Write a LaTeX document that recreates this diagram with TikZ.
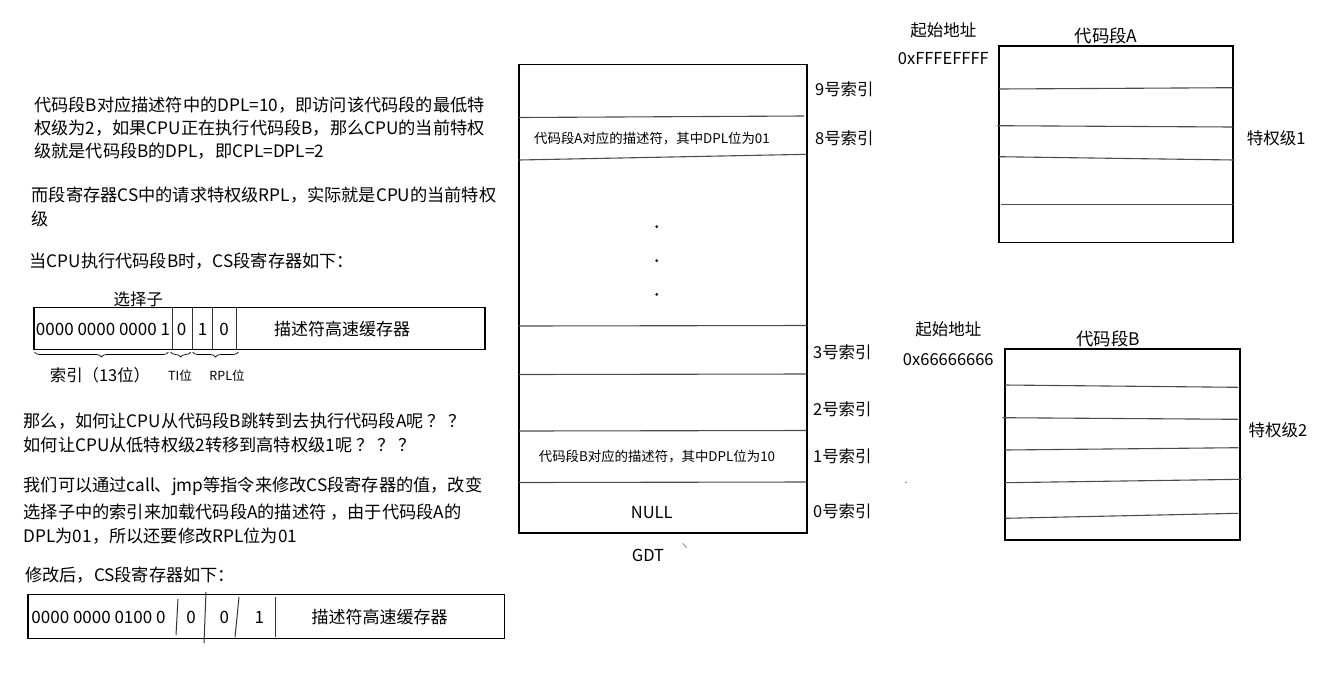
\documentclass[tikz,border=0pt]{standalone}
\usepackage{fontspec}
\setmainfont{Noto Sans CJK SC}
\usetikzlibrary{decorations.pathreplacing}
\begin{document}
\begin{tikzpicture}[x=1pt,y=-1pt,
  txt/.style={anchor=west, inner sep=0pt, font=\fontsize{17.2}{20}\selectfont},
  lbl/.style={inner sep=0pt, font=\fontsize{16.4}{19}\selectfont},
  reg/.style={inner sep=0pt, font=\fontsize{17}{19}\selectfont},
  small/.style={inner sep=0pt, font=\fontsize{13.4}{15}\selectfont},
  hd/.style={inner sep=0pt, font=\fontsize{16.5}{19}\selectfont},
  boxline/.style={line width=1.6pt},
  sepline/.style={line width=1pt, draw=black!80},
  rowline/.style={line width=1.1pt, draw=black!70},
  bracestyle/.style={decorate, decoration={brace, mirror, amplitude=5pt}, line width=0.7pt}]
\useasboundingbox (0,0) rectangle (1329,673);
\fill[white] (0,0) rectangle (1329,673);

% ---------- left text ----------
\node[txt] (p1a) at (34,105) {代码段B对应描述符中的DPL=10，即访问该代码段的最低特};
\node[txt] (p1b) at (34,128.5) {权级为2，如果CPU正在执行代码段B，那么CPU的当前特权};
\node[txt] (p1c) at (34,151) {级就是代码段B的DPL，即CPL=DPL=2};
\node[txt] (p2a) at (31.5,195) {而段寄存器CS中的请求特权级RPL，实际就是CPU的当前特权};
\node[txt] (p2b) at (31.5,218.5) {级};
\node[txt] (p3) at (29.5,261.5) {当CPU执行代码段B时，CS段寄存器如下：};

% ---------- register 1 ----------
\node[lbl] (sel) at (138.3,299.5) {选择子};
\draw[boxline] (34,307.3) rectangle (485,349.3);
\draw[sepline] (172.3,307.3) -- (172.3,349.3);
\draw[sepline] (192.3,307.3) -- (192.3,349.3);
\draw[sepline] (212.7,307.3) -- (212.7,349.3);
\draw[sepline] (236.7,307.3) -- (236.7,349.3);
\node[reg] (r1idx) at (103,329) {0000 0000 0000 1};
\node[reg] (r1ti) at (181.7,329) {0};
\node[reg] (r1b1) at (202.7,329) {1};
\node[reg] (r1b0) at (224,329) {0};
\node[reg] (r1cache) at (342,329) {描述符高速缓存器};
\draw[bracestyle] (34.5,352) -- (168.3,352);
\draw[bracestyle] (170.7,352) -- (190.7,352);
\draw[bracestyle] (192.7,352) -- (238.3,352);
\node[lbl] (lidx) at (100,375) {索引（13位）};
\node[inner sep=0pt, font=\fontsize{12.5}{14}\selectfont] (lti) at (180,376) {TI位};
\node[inner sep=0pt, font=\fontsize{12.5}{14}\selectfont] (lrpl) at (227,376) {RPL位};

% ---------- lower text ----------
\node[txt] (q1) at (23.5,421.5) {那么，如何让CPU从代码段B跳转到去执行代码段A呢 ？ ？};
\node[txt] (q2) at (23.5,445) {如何让CPU从低特权级2转移到高特权级1呢 ？ ？ ？};
\node[txt] (a1) at (23.5,486.5) {我们可以通过call、jmp等指令来修改CS段寄存器的值，改变};
\node[txt] (a2) at (23.5,512.5) {选择子中的索引来加载代码段A的描述符 ，由于代码段A的};
\node[txt] (a3) at (23.5,536.5) {DPL为01，所以还要修改RPL位为01};
\node[txt] (m1) at (25,575) {修改后，CS段寄存器如下：};

% ---------- register 2 ----------
\draw[boxline] (27.7,594.3) rectangle (504.3,638.3);
\draw[sepline] (178,599) -- (176,635);
\draw[sepline] (206,592) -- (204,643);
\draw[sepline] (239,597) -- (235,637);
\draw[sepline] (275,597) -- (275,637);
\node[reg] (r2idx) at (98.5,617.5) {0000 0000 0100 0};
\node[reg] (r2ti) at (191,617.5) {0};
\node[reg] (r2b1) at (224.3,617.5) {0};
\node[reg] (r2b0) at (259.3,617.5) {1};
\node[reg] (r2cache) at (379.7,617.5) {描述符高速缓存器};

% ---------- GDT ----------
\draw[boxline] (519,64.5) rectangle (806.7,532.7);
\draw[rowline] (519,117.5) -- (804,116);
\draw[rowline] (519,160) -- (806.7,154.3);
\draw[rowline] (519,326) -- (807,325.5);
\draw[rowline] (519,374.5) -- (806.7,374);
\draw[rowline] (519,431) -- (806.7,430.5);
\draw[rowline] (519,482.5) -- (806.7,482);
\fill (656.7,226.7) circle (1.5pt);
\fill (656.7,260.7) circle (1.5pt);
\fill (656.7,294.3) circle (1.5pt);
\node[small] (descA) at (652,138.5) {代码段A对应的描述符，其中DPL位为01};
\node[small] (descB) at (657,456.7) {代码段B对应的描述符，其中DPL位为10};
\node[hd] (null) at (651.7,512.3) {NULL};
\node[hd] (gdt) at (648,555) {GDT};
\draw[line width=0.6pt, draw=black!60] (682.7,543.3) -- (686.7,547.7);
\node[lbl, anchor=west] (i9) at (815,89.5) {9号索引};
\node[lbl, anchor=west] (i8) at (815,138.5) {8号索引};
\node[lbl, anchor=west] (i3) at (813,352.7) {3号索引};
\node[lbl, anchor=west] (i2) at (813,409.3) {2号索引};
\node[lbl, anchor=west] (i1) at (813,456.7) {1号索引};
\node[lbl, anchor=west] (i0) at (813,511) {0号索引};

% ---------- code segment A ----------
\node[hd] (startA) at (943.3,30.7) {起始地址};
\node[hd] (addrA) at (943.3,58.3) {0xFFFEFFFF};
\node[inner sep=0pt, font=\fontsize{17.4}{20}\selectfont] (titleA) at (1106,36) {代码段A};
\draw[boxline] (999,46) rectangle (1232.7,242.3);
\draw[rowline] (999,89) -- (1232.7,87.7);
\draw[rowline] (997.3,125.7) -- (1232.7,127);
\draw[rowline] (999,156.7) -- (1234.3,160);
\draw[rowline] (1001,204.3) -- (1232.7,204.3);
\node[hd, anchor=west] (plA) at (1246.7,138.3) {特权级1};

% ---------- code segment B ----------
\node[hd] (startB) at (948.3,329) {起始地址};
\node[hd] (addrB) at (948.3,359.3) {0x66666666};
\node[inner sep=0pt, font=\fontsize{17.4}{20}\selectfont] (titleB) at (1108.3,339.3) {代码段B};
\draw[boxline] (1005,349) rectangle (1240,540);
\draw[rowline] (1005,385) -- (1238.3,387.3);
\draw[rowline] (1002.7,417.7) -- (1238.3,419.3);
\draw[rowline] (1005,450) -- (1238.3,447.7);
\draw[rowline] (1005,482.7) -- (1241.7,479.3);
\draw[rowline] (1005,518.3) -- (1238.3,513.3);
\node[hd, anchor=west] (plB) at (1248.3,430) {特权级2};
\fill (906,482.3) circle (0.6pt);
\end{tikzpicture}
\end{document}
